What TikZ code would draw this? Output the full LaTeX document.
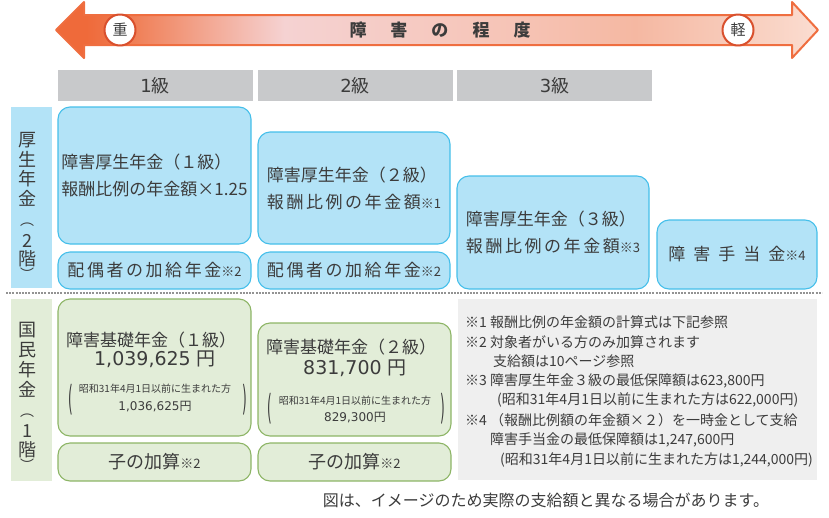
\documentclass[tikz,border=0pt]{standalone}
\usepackage{fontspec}
\usepackage{graphicx}
\setmainfont{Noto Sans CJK JP}
\newfontfamily\spjp[LetterSpace=15]{Noto Sans CJK JP}
\newfontfamily\dv{DejaVu Sans}
\usetikzlibrary{positioning}
\definecolor{txt}{HTML}{3C3C3C}
\definecolor{kFill}{HTML}{B3E3F7}
\definecolor{kLine}{HTML}{45BFEA}
\definecolor{gFill}{HTML}{E2EDD8}
\definecolor{gLine}{HTML}{8DB566}
\definecolor{hGray}{HTML}{C8C9CB}
\definecolor{nGray}{HTML}{EFEFEF}
\definecolor{yaLine}{HTML}{EF6E40}
\definecolor{maru}{HTML}{D9502D}
\definecolor{arrA}{HTML}{EF6A3A}
\definecolor{arrB}{HTML}{F07E55}
\definecolor{arrC}{HTML}{F5D2D2}
\definecolor{arrD}{HTML}{F6C4B6}
\definecolor{arrE}{HTML}{F5B8A2}
\definecolor{arrF}{HTML}{F9D3C4}
\definecolor{arrG}{HTML}{FBDDD1}
\pgfdeclarehorizontalshading{teido}{100bp}{color(0bp)=(arrA); color(27bp)=(arrA); color(30bp)=(arrB); color(40bp)=(arrC); color(55bp)=(arrD); color(63bp)=(arrE); color(72bp)=(arrF); color(75bp)=(arrG); color(100bp)=(arrG)}
\newcommand\kome[1]{{\fontsize{13}{13}\selectfont ※#1}}
\newcommand\ookakko[1]{{\dv\scalebox{0.8}[2.3]{#1}}}
\begin{document}
\begin{tikzpicture}[x=1pt, y=-1pt, line join=round, line cap=round,
	kosei/.style={draw=kLine, fill=kFill, line width=1.1pt, rounded corners=12pt, inner sep=0pt, align=left, text=txt, font=\fontsize{17}{27}\selectfont},
	kokumin/.style={draw=gLine, fill=gFill, line width=1.1pt, rounded corners=12pt, inner sep=0pt, text=txt, font=\fontsize{18}{18}\selectfont},
	tokyu/.style={fill=hGray, minimum width=195pt, minimum height=31pt, inner sep=0pt, text=txt, font=\fontsize{18}{18}\selectfont},
	tate/.style={text=txt, inner sep=0pt},
	kihon/.style={text=txt, inner sep=0pt, font=\fontsize{17}{17}\selectfont},
	gaku/.style={text=txt, inner sep=0pt, font=\fontsize{19}{19}\selectfont},
	shoki/.style={text=txt, inner sep=0pt, font=\fontsize{10}{10}\selectfont},
	shoki2/.style={text=txt, inner sep=0pt, font=\fontsize{12}{12}\selectfont},
	kakko/.style={text=txt, inner sep=0pt, font=\fontsize{15}{15}\selectfont},
	chu/.style={text=txt, inner sep=0pt, anchor=west, font=\fontsize{14}{14}\selectfont},
	kugiri/.style={draw=gray!85, line width=1.8pt, dash pattern=on 2pt off 1.2pt, line cap=butt}]
	\useasboundingbox (0,0) rectangle (829,517);
	% 障害の程度
	\shadedraw[shading=teido, draw=yaLine, line width=2pt] (56,30) -- (84,2) -- (84,15) -- (792,15) -- (792,2) -- (818,30) -- (792,58) -- (792,45) -- (84,45) -- (84,58) -- cycle;
	\node[circle, draw=maru, fill=white, line width=2pt, minimum size=31pt, inner sep=0pt, text=txt, font=\fontsize{15}{15}\selectfont] (omo) at (120,30) {重};
	\node[circle, draw=maru, fill=white, line width=2pt, minimum size=31pt, inner sep=0pt, text=txt, font=\fontsize{15}{15}\selectfont] (karu) at (738,30) {軽};
	\node[text=txt, font=\bfseries\fontsize{17}{17}\selectfont] (teido) at (440,30) {障\hspace{24pt}害\hspace{24pt}の\hspace{24pt}程\hspace{24pt}度};
	% 等級
	\node[tokyu] (kyu1) at (155,85.5) {{\dv 1}級};
	\node[tokyu] (kyu2) at (355,85.5) {{\dv 2}級};
	\node[tokyu] (kyu3) at (554.5,85.5) {{\dv 3}級};
	% 厚生年金（2階）
	\fill[kFill] (11,107) rectangle (52,288);
	\foreach \c/\dy/\fs [count=\i] in {厚/0/18, 生/19/18, 年/39/18, 金/58/18, ︵/85/14, 2/101/18, 階/119/18, ︶/134/14}
		\node[tate, font=\fontsize{\fs}{\fs}\selectfont] (kv\i) at (27,140+\dy) {\c};
	\node[kosei, minimum width=193pt, minimum height=137pt] (k1a) at (154.5,175.5) {障害厚生年金（１級）\\報酬比例の年金額×1.25};
	\node[kosei, minimum width=193pt, minimum height=37pt] (k1b) at (154.5,270.5) {{\spjp 配偶者の加給年金}\kome{2}};
	\node[kosei, minimum width=192pt, minimum height=112pt] (k2a) at (354,188) {障害厚生年金（２級）\\{\spjp 報酬比例の年金額}\kome{1}};
	\node[kosei, minimum width=192pt, minimum height=37pt] (k2b) at (354,270.5) {{\spjp 配偶者の加給年金}\kome{2}};
	\node[kosei, minimum width=192pt, minimum height=113pt] (k3) at (553,232.5) {障害厚生年金（３級）\\{\spjp 報酬比例の年金額}\kome{3}};
	\node[kosei, minimum width=160pt, minimum height=69pt] (kte) at (737,254.5) {障\hspace{8pt}害\hspace{8pt}手\hspace{8pt}当\hspace{8pt}金\kome{4}};
	\draw[kugiri] (6,293) -- (822,293);
	% 国民年金（1階）
	\fill[gFill] (11,299) rectangle (52,481);
	\foreach \c/\dy/\fs [count=\i] in {国/0/18, 民/20/18, 年/40/18, 金/59/18, ︵/86/14, 1/101/18, 階/120/18, ︶/135/14}
		\node[tate, font=\fontsize{\fs}{\fs}\selectfont] (gv\i) at (27,330+\dy) {\c};
	\node[kokumin, minimum width=193pt, minimum height=137pt] (g1a) at (154.5,367.5) {};
	\node[kihon, anchor=west] (g1t) at (66,340) {障害基礎年金（１級）};
	\node[gaku] (g1y) at (155,359) {{\dv 1,039,625 }円};
	\node[shoki] (g1s) at (155,389) {昭和31年4月1日以前に生まれた方};
	\node[shoki2] (g1z) at (155,407) {{\dv 1,036,625}円};
	\node[kakko] (g1l) at (71,400) {\ookakko{(}};
	\node[kakko] (g1r) at (245,400) {\ookakko{)}};
	\node[kokumin, minimum width=193pt, minimum height=113pt] (g2a) at (354.5,379.5) {};
	\node[kihon, anchor=west] (g2t) at (266,347) {障害基礎年金（２級）};
	\node[gaku] (g2y) at (355,368) {{\dv 831,700 }円};
	\node[shoki] (g2s) at (355,401) {昭和31年4月1日以前に生まれた方};
	\node[shoki2] (g2z) at (355,418) {{\dv 829,300}円};
	\node[kakko] (g2l) at (270,409) {\ookakko{(}};
	\node[kakko] (g2r) at (443,409) {\ookakko{)}};
	\node[kokumin, minimum width=193pt, minimum height=38pt] (g1b) at (154.5,462) {子の加算\kome{2}};
	\node[kokumin, minimum width=193pt, minimum height=38pt] (g2b) at (354.5,462) {子の加算\kome{2}};
	% 注記
	\node[fill=nGray, minimum width=359pt, minimum height=181pt, inner sep=0pt] (chuki) at (637.5,389.5) {};
	\node[chu] (c1) at (465,322) {※1 報酬比例の年金額の計算式は下記参照};
	\node[chu] (c2) at (465,342) {※2 対象者がいる方のみ加算されます};
	\node[chu] (c3) at (493,361) {支給額は10ページ参照};
	\node[chu] (c4) at (465,381) {※3 障害厚生年金３級の最低保障額は623,800円};
	\node[chu] (c5) at (497,400) {(昭和31年4月1日以前に生まれた方は622,000円)};
	\node[chu] (c6) at (465,420) {※4 （報酬比例額の年金額×２）を一時金として支給};
	\node[chu] (c7) at (490,440) {障害手当金の最低保障額は1,247,600円};
	\node[chu] (c8) at (500,460) {(昭和31年4月1日以前に生まれた方は1,244,000円)};
	\node[text=txt, inner sep=0pt, font=\fontsize{16}{16}\selectfont] (zu) at (546,500) {図は、イメージのため実際の支給額と異なる場合があります。};
\end{tikzpicture}
\end{document}
